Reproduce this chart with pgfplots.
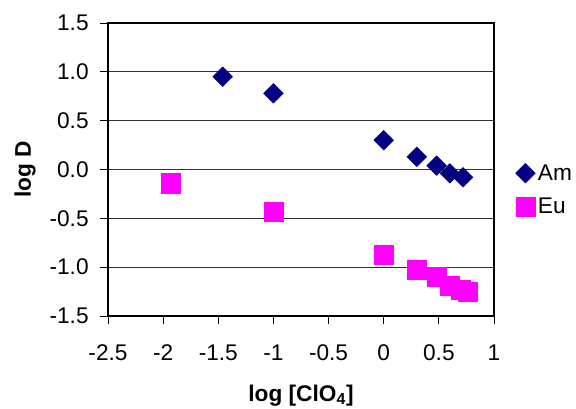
\documentclass[border=0pt]{standalone}
\usepackage{fontspec}
\setmainfont{Liberation Sans}
\usepackage{pgfplots}
\pgfplotsset{compat=1.18}
\definecolor{amblue}{HTML}{000080}
\definecolor{eupink}{HTML}{FF00FF}
\begin{document}
\begin{tikzpicture}[x=1pt,y=1pt]
\useasboundingbox (-81,-69) rectangle (351,237);
\begin{axis}[
  at={(0,0)}, anchor=south west,
  scale only axis,
  width=289.5pt, height=219.75pt,
  xmin=-2.5, xmax=1, ymin=-1.5, ymax=1.5,
  xtick={-2.5,-2,-1.5,-1,-0.5,0,0.5,1},
  xticklabels={-2.5,-2,-1.5,-1,-0.5,0,0.5,1},
  ytick={-1.5,-1,-0.5,0,0.5,1,1.5},
  yticklabels={-1.5,-1.0,-0.5,0.0,0.5,1.0,1.5},
  tick align=outside,
  major tick length=6pt,
  xtick pos=bottom, ytick pos=left,
  ymajorgrids,
  major grid style={line width=0.6pt, draw=black!80},
  axis line style={line width=1.1pt},
  tick style={line width=0.6pt, black},
  tick label style={font=\fontsize{17}{20}\selectfont},
  xticklabel style={yshift=-12pt},
  yticklabel style={xshift=-5pt},
  xlabel={\textbf{log [ClO\textsubscript{4}]}},
  ylabel={\textbf{log D}},
  every axis x label/.style={at={(axis description cs:0.5,-0.272)}, anchor=center,
    font=\fontsize{17}{20}\selectfont},
  every axis y label/.style={at={(axis description cs:-0.215,0.5)}, rotate=90, anchor=center,
    font=\fontsize{17}{20}\selectfont},
  legend style={at={(axis description cs:1.045,0.43)}, anchor=west, draw=none, fill=none,
    font=\fontsize{17}{20}\selectfont, row sep=8pt},
  legend cell align=left,
]
\addplot[only marks, mark=square*, color=amblue, mark size=5.2pt, mark options={rotate=45}]
  coordinates {(-1.46,0.95) (-1.0,0.78) (0.0,0.30) (0.30,0.13) (0.48,0.04) (0.60,-0.04) (0.72,-0.08)};
\addlegendentry{Am}
\addplot[only marks, mark=square*, color=eupink, mark size=7.2pt]
  coordinates {(-1.93,-0.14) (-1.0,-0.43) (0.0,-0.87) (0.30,-1.03) (0.48,-1.10) (0.60,-1.19) (0.70,-1.23) (0.76,-1.25)};
\addlegendentry{Eu}
\end{axis}
\end{tikzpicture}
\end{document}
